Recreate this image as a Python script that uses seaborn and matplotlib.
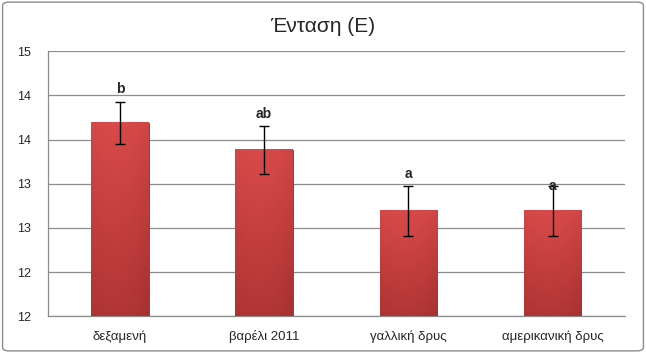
import numpy as np
import pandas as pd
import matplotlib
matplotlib.use('Agg')
import matplotlib.pyplot as plt
from matplotlib.patches import FancyBboxPatch
import seaborn as sns

# data
categories = ['δεξαμενή', 'βαρέλι 2011', 'γαλλική δρυς', 'αμερικανική δρυς']
means = [14.19, 13.88, 13.19, 13.19]
errors = [0.24, 0.27, 0.28, 0.28]
letters = ['b', 'ab', 'a', 'a']
ytick_values = [12, 12.5, 13, 13.5, 14, 14.5, 15]
ytick_labels = ['12', '12', '13', '13', '14', '14', '15']

df = pd.DataFrame({'cat': categories, 'mean': means})

sns.set_style('white')
plt.rcParams['font.family'] = ['Liberation Sans', 'DejaVu Sans']

fig = plt.figure(figsize=(6.46, 3.53), dpi=100)
ax = fig.add_axes([0.074, 0.104, 0.893, 0.751])

ymin, ymax = 12, 15

sns.barplot(data=df, x='cat', y='mean', color='#C0393B', width=0.4,
            edgecolor='#9A2B2B', linewidth=0.6, ax=ax, zorder=3)

# gradient fill like the Excel bevel (drawn only over the visible part)
h, w = 100, 40
tv = np.linspace(0, 1, h)[:, None]
tx = np.linspace(0, 1, w)[None, :]
light = np.array([0.85, 0.29, 0.29])
dark = np.array([0.66, 0.19, 0.19])
mix = 0.8 * tv + 0.6 * np.abs(tx - 0.4) ** 2
mix = np.clip(mix, 0, 1)
grad = light[None, None, :] * (1 - mix[..., None]) + dark[None, None, :] * mix[..., None]
for p in ax.patches:
    x0, top = p.get_x(), p.get_y() + p.get_height()
    bw = p.get_width()
    ax.imshow(grad, extent=[x0, x0 + bw, ymin, top], aspect='auto',
              origin='upper', zorder=3.5)

xs = np.arange(len(categories))
ax.errorbar(xs, means, yerr=errors, fmt='none', ecolor='black',
            elinewidth=1, capsize=3.5, capthick=1, zorder=5)

letter_offsets = [0.06, 0.06, 0.06, -0.08]
for i, (m, e, t) in enumerate(zip(means, errors, letters)):
    ax.text(i, m + e + letter_offsets[i], t, ha='center', va='bottom',
            fontsize=10, fontweight='bold', zorder=6)

ax.set_ylim(ymin, ymax)
ax.set_xlim(-0.5, len(categories) - 0.5)
ax.set_yticks(ytick_values)
ax.set_yticklabels(ytick_labels, fontsize=9)
ax.yaxis.grid(True, color='#8C8C8C', linewidth=0.9, zorder=0)
ax.set_axisbelow(True)

ax.set_xticks(xs)
ax.set_xticklabels(categories, fontsize=9.5)
ax.set_xticks(np.arange(len(categories) + 1) - 0.5, minor=True)
ax.tick_params(axis='x', which='major', length=0, pad=10)
ax.tick_params(axis='x', which='minor', length=5, color='#8C8C8C', direction='out')
ax.tick_params(axis='y', length=4, color='#8C8C8C', direction='out', pad=8)
ax.set_xlabel('')
ax.set_ylabel('')

for s in ['top', 'right']:
    ax.spines[s].set_visible(False)
for s in ['left', 'bottom']:
    ax.spines[s].set_color('#8C8C8C')
    ax.spines[s].set_linewidth(0.9)

fig.text(0.5, 0.925, 'Ένταση (Ε)', ha='center', va='center', fontsize=15)

border = FancyBboxPatch((0.004, 0.006), 0.992, 0.988, boxstyle='round,pad=0,rounding_size=0.01',
                        transform=fig.transFigure, fill=False, edgecolor='#8C8C8C', linewidth=1)
fig.patches.append(border)

fig.savefig('out.png', dpi=100)
